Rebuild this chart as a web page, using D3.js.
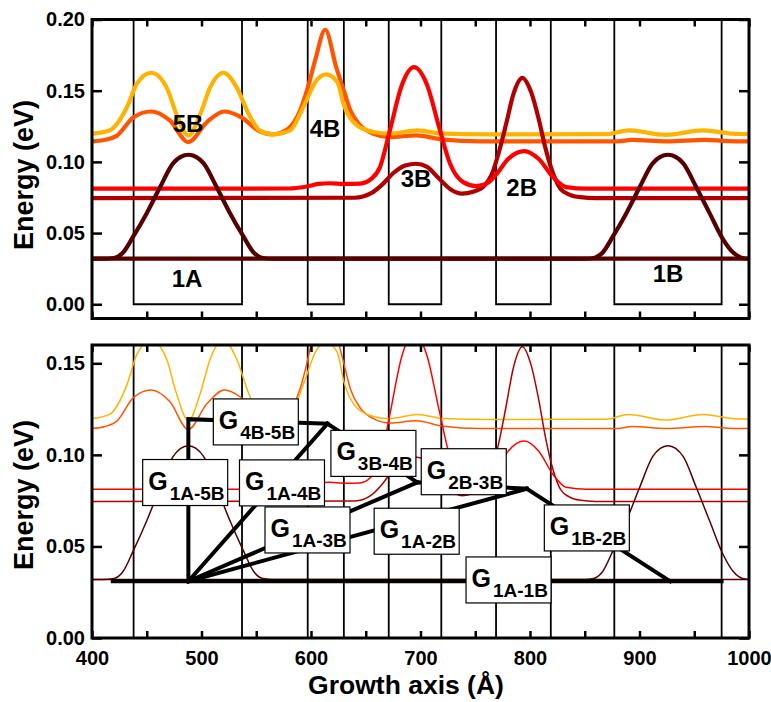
<!DOCTYPE html>
<meta charset="utf-8">
<style>
body { margin: 0; background: #fff; }
text { font-family: "Liberation Sans", Arial, Helvetica, sans-serif; font-weight: bold; fill: #000; }
.frame { fill: none; stroke: #000; stroke-width: 3; }
.well { fill: none; stroke: #000; stroke-width: 1.8; }
.gline { fill: none; stroke: #000; stroke-width: 4; stroke-linecap: square; }
.gbox { fill: #fff; stroke: #000; stroke-width: 1.2; }
.axis path { display: none; }
.axis line { stroke: #000; stroke-width: 2.5; }
.axis text { font-size: 20px; }
</style>
<body>
<script src="https://cdn.jsdelivr.net/npm/d3@7"></script>
<script>

// well edges along the growth axis (Å)
var wells = [[438, 537], [597, 630], [671, 719], [769, 819], [877, 975]];

// squared wave functions drawn on their energy levels: [growth (Å), energy (eV)]
var state1A = [[400,0.032],[410,0.032],[420,0.0325],[428,0.036],[438,0.048],[450,0.064],[462,0.082],[474,0.099],
  [481,0.1035],[488,0.105],[495,0.1035],[502,0.099],[514,0.082],[526,0.064],[538,0.048],[548,0.036],[556,0.0325],
  [566,0.032],[1000,0.032]];
var state1B = [[400,0.032],[850,0.032],[858,0.0325],[866,0.036],[876,0.048],[888,0.064],[900,0.082],[912,0.099],
  [919,0.1035],[926,0.105],[933,0.1035],[940,0.099],[952,0.082],[964,0.064],[976,0.046],[986,0.036],[994,0.0325],[1000,0.032]];
var state2B = [[400,0.0746],[640,0.0748],[655,0.078],[665,0.084],[675,0.092],[686,0.0975],[696,0.0987],[706,0.0965],
  [716,0.089],[727,0.081],[738,0.0777],[748,0.079],[758,0.083],[765,0.091],[772,0.108],[778,0.126],[785,0.148],
  [793,0.159],[801,0.149],[808,0.13],[814,0.11],[821,0.092],[828,0.081],[836,0.077],[846,0.0752],[860,0.0746],[1000,0.0746]];
var state3B = [[400,0.0812],[580,0.0813],[595,0.0825],[607,0.0845],[617,0.085],[630,0.0845],[645,0.0847],[655,0.088],
  [663,0.0963],[672,0.122],[683,0.154],[694,0.1665],[706,0.154],[717,0.1244],[727,0.0987],[739,0.0858],[751,0.083],
  [762,0.0855],[770,0.092],[780,0.102],[795,0.1076],[808,0.102],[821,0.0893],[833,0.0823],[852,0.0812],[1000,0.0812]];
var state4B = [[400,0.1144],[412,0.1155],[423,0.1186],[438,0.1314],[454,0.1354],[471,0.1291],[488,0.1139],[505,0.128],
  [521,0.1354],[536,0.1314],[553,0.1215],[565,0.1193],[578,0.1225],[590,0.136],[597,0.152],[604,0.172],[613,0.1928],
  [623,0.1665],[630,0.15],[636,0.136],[645,0.1256],[657,0.1198],[672,0.1174],[696,0.1186],[721,0.1156],[754,0.1144],
  [880,0.1144],[893,0.1155],[925,0.1144],[960,0.1155],[980,0.1146],[1000,0.1144]];
var state5B = [[400,0.1198],[416,0.1221],[432,0.1385],[441,0.1549],[454,0.1626],[468,0.1525],[477,0.1338],[488,0.1186],
  [499,0.1338],[508,0.1525],[520,0.1626],[532,0.1525],[543,0.1338],[553,0.1221],[565,0.1193],[581,0.1221],[593,0.1385],
  [605,0.1572],[614,0.1614],[624,0.156],[630,0.14],[642,0.1256],[657,0.121],[672,0.1198],[697,0.1221],[721,0.1198],
  [760,0.1193],[870,0.1195],[890,0.1221],[924,0.119],[958,0.1221],[985,0.1198],[1000,0.1195]];

// level labels in the upper panel
var levelNames = ["5B", "4B", "1A", "3B", "2B", "1B"];
var levelX = [487.7, 612.8, 486.8, 696, 792.4, 926];
var levelY = [0.127, 0.1235, 0.0183, 0.0884, 0.0821, 0.0218];

// transition lines in the lower panel
var gLines = [
  [[488,0.031],[488,0.1195],[615,0.117]],
  [[488,0.031],[615,0.117]],
  [[615,0.117],[697,0.085]],
  [[488,0.031],[697,0.085]],
  [[697,0.085],[797,0.0815]],
  [[488,0.031],[797,0.0815]],
  [[797,0.0815],[928,0.031]],
  [[419,0.031],[975,0.031]]
];
// transition labels (box centres)
var gSubs = ["4B-5B", "1A-5B", "1A-4B", "1A-3B", "3B-4B", "2B-3B", "1A-2B", "1B-2B", "1A-1B"];
var gX = [549.6, 485.1, 573.5, 596.8, 657, 739.5, 696.5, 851.9, 780.4];
var gY = [0.118, 0.0849, 0.0847, 0.059, 0.1008, 0.0908, 0.0583, 0.0601, 0.0317];

var xTicks = d3.range(400, 1001, 50);
var yTicksTop = [0, 0.05, 0.1, 0.15, 0.2];
var yTicksBot = [0, 0.05, 0.1, 0.15];

// drawing order and colours
var states = [state4B, state5B, state2B, state3B, state1A, state1B];
var colors = ["#ff5500", "#ffb300", "#b00000", "#ff0000", "#560000", "#560000"];

var x = d3.scaleLinear().domain([400, 1000]).range([92, 749]);
var yTop = d3.scaleLinear().domain([-0.01, 0.2]).range([318.5, 19.5]);
var yBot = d3.scaleLinear().domain([0, 0.16]).range([638, 345]);

var svg = d3.select("body").append("svg")
    .attr("width", 771)
    .attr("height", 702);

function panel(y, id, lw) {
  var g = svg.append("g");
  var y0 = y.range()[1], y1 = y.range()[0];

  svg.append("clipPath").attr("id", id)
    .append("rect").attr("x", x(400)).attr("y", y0)
      .attr("width", x(1000) - x(400)).attr("height", y1 - y0);

  var inner = g.append("g").attr("clip-path", "url(#" + id + ")");

  // well profile
  wells.forEach(function(w) {
    var bottom = id == "clipTop" ? y(0) : y1;
    inner.append("path")
      .attr("class", "well")
      .attr("d", "M" + x(w[0]) + "," + y0 + "V" + bottom + "H" + x(w[1]) + "V" + y0);
  });

  var line = d3.line()
    .x(function(d) { return x(d[0]); })
    .y(function(d) { return y(d[1]); })
    .curve(d3.curveMonotoneX);

  states.forEach(function(s, i) {
    inner.append("path")
      .datum(s)
      .attr("d", line)
      .attr("fill", "none")
      .attr("stroke", colors[i])
      .attr("stroke-width", lw);
  });

  return g;
}

function axes(g, y, ticks, showX) {
  var y0 = y.range()[1], y1 = y.range()[0];
  g.append("g").attr("class", "axis")
    .attr("transform", "translate(" + x(400) + ",0)")
    .call(d3.axisLeft(y).tickValues(ticks).tickSizeInner(-10).tickSizeOuter(0)
      .tickPadding(7).tickFormat(d3.format(".2f")));
  g.append("g").attr("class", "axis")
    .attr("transform", "translate(" + x(1000) + ",0)")
    .call(d3.axisRight(y).tickValues(ticks).tickSizeInner(-10).tickSizeOuter(0).tickFormat(""));
  g.append("g").attr("class", "axis")
    .attr("transform", "translate(0," + y0 + ")")
    .call(d3.axisTop(x).tickValues(xTicks).tickSizeInner(-7).tickSizeOuter(0).tickFormat(""));
  g.append("g").attr("class", "axis")
    .attr("transform", "translate(0," + y1 + ")")
    .call(d3.axisBottom(x).tickValues(xTicks).tickSizeInner(-7).tickSizeOuter(0).tickPadding(13)
      .tickFormat(function(d) { return showX && d % 100 == 0 ? d : ""; }));
  g.append("rect").attr("class", "frame")
    .attr("x", x(400)).attr("y", y0)
    .attr("width", x(1000) - x(400)).attr("height", y1 - y0);
}

// upper panel
var gTop = panel(yTop, "clipTop", 4.2);
levelNames.forEach(function(n, i) {
  gTop.append("text")
    .attr("x", x(levelX[i]))
    .attr("y", yTop(levelY[i]))
    .attr("dy", "0.36em")
    .attr("text-anchor", "middle")
    .style("font-size", "24px")
    .text(n);
});
axes(gTop, yTop, yTicksTop, false);

// lower panel
var gBot = panel(yBot, "clipBot", 1.5);
gLines.forEach(function(l) {
  gBot.append("path")
    .datum(l)
    .attr("class", "gline")
    .attr("d", d3.line().x(function(d) { return x(d[0]); }).y(function(d) { return yBot(d[1]); }));
});
gSubs.forEach(function(s, i) {
  var cx = x(gX[i]), cy = yBot(gY[i]);
  var lab = gBot.append("g");
  lab.append("rect").attr("class", "gbox")
    .attr("x", cx - 42.5).attr("y", cy - 23)
    .attr("width", 85).attr("height", 46);
  var t = lab.append("text")
    .attr("x", cx - 37)
    .attr("y", cy + 7)
    .style("font-size", "25px");
  t.append("tspan").text("G");
  t.append("tspan").attr("dx", 2).attr("dy", 10).style("font-size", "19px").text(s);
});
axes(gBot, yBot, yTicksBot, true);

// axis titles
svg.append("text")
  .attr("transform", "translate(33,175) rotate(-90)")
  .attr("text-anchor", "middle")
  .style("font-size", "27px")
  .text("Energy (eV)");
svg.append("text")
  .attr("transform", "translate(33,495) rotate(-90)")
  .attr("text-anchor", "middle")
  .style("font-size", "27px")
  .text("Energy (eV)");
svg.append("text")
  .attr("x", 406)
  .attr("y", 694)
  .attr("text-anchor", "middle")
  .style("font-size", "26.5px")
  .text("Growth axis (Å)");

</script>
</body>
